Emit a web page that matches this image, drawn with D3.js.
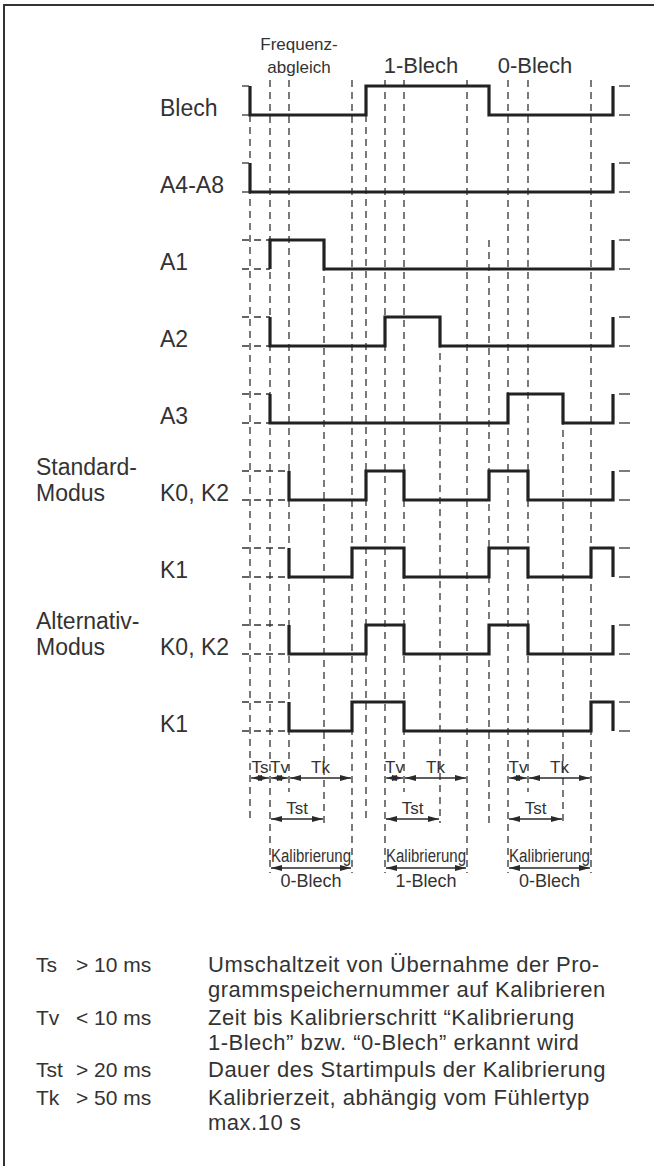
<!DOCTYPE html>
<html>
<head>
<meta charset="utf-8">
<script src="https://cdn.jsdelivr.net/npm/d3@7/dist/d3.min.js"></script>
<style>
  body { margin: 0; background: #fff; overflow: hidden; }
  svg { display: block; }
  text { font-family: "Liberation Sans", Arial, sans-serif; fill: #333; }
</style>
</head>
<body>
<div id="chart"></div>
<script>
// time points of the edges (arbitrary units along the time axis)
const eventTimes = [0, 20, 39, 74, 102, 116, 135, 154, 190, 217, 239, 258, 278, 313, 341, 363];

const signalNames = ['Blech', 'A4-A8', 'A1', 'A2', 'A3', 'K0, K2', 'K1', 'K0, K2', 'K1'];
// [event index, level] pairs, drawn as step-after
const signalSteps = [
    [[0, 1], [0, 0], [5, 1], [10, 0], [15, 1]],
    [[0, 1], [0, 0], [15, 1]],
    [[1, 0], [1, 1], [3, 0], [15, 1]],
    [[1, 1], [1, 0], [6, 1], [8, 0], [15, 1]],
    [[1, 1], [1, 0], [11, 1], [13, 0], [15, 1]],
    [[2, 1], [2, 0], [5, 1], [7, 0], [10, 1], [12, 0], [15, 1]],
    [[2, 1], [2, 0], [4, 1], [7, 0], [10, 1], [12, 0], [14, 1], [15, 0]],
    [[2, 1], [2, 0], [5, 1], [7, 0], [10, 1], [12, 0], [15, 1]],
    [[2, 1], [2, 0], [4, 1], [7, 0], [14, 1], [15, 0]]
];
const modeLabels = [
    { row: 5, lines: ['Standard-', 'Modus'] },
    { row: 7, lines: ['Alternativ-', 'Modus'] }
];

// dashed guides: event index, where it starts (top or a row level), which arrow row it ends at
const guideEvents = [0, 1, 2, 3, 4, 5, 6, 7, 8, 9, 10, 11, 12, 13, 14];
const guideFrom = [[0, 0], 'top', 'top', [2, 1], 'top', [0, 0], 'top', 'top', [3, 1], 'top', [2, 1], 'top', 'top', [4, 1], 'top'];
const guideTo = ['tst', 'kal', 'tk', 'tst', 'kal', 'tst', 'kal', 'tk', 'tst', 'kal', 'tst', 'kal', 'tk', 'tst', 'kal'];

const timeArrows = [
    { row: 'tk', from: 0, to: 1, label: 'Ts' },
    { row: 'tk', from: 1, to: 2, label: 'Tv' },
    { row: 'tk', from: 2, to: 4, label: 'Tk' },
    { row: 'tk', from: 6, to: 7, label: 'Tv' },
    { row: 'tk', from: 7, to: 9, label: 'Tk' },
    { row: 'tk', from: 11, to: 12, label: 'Tv' },
    { row: 'tk', from: 12, to: 14, label: 'Tk' },
    { row: 'tst', from: 1, to: 3, label: 'Tst' },
    { row: 'tst', from: 6, to: 8, label: 'Tst' },
    { row: 'tst', from: 11, to: 13, label: 'Tst' },
    { row: 'kal', from: 1, to: 4, label: 'Kalibrierung', sub: '0-Blech' },
    { row: 'kal', from: 6, to: 9, label: 'Kalibrierung', sub: '1-Blech' },
    { row: 'kal', from: 11, to: 14, label: 'Kalibrierung', sub: '0-Blech' }
];

const phaseLabels = [
    { t: 49, lines: ['Frequenz-', 'abgleich'] },
    { t: 171, lines: ['1-Blech'] },
    { t: 285, lines: ['0-Blech'] }
];

const legendSymbols = ['Ts', 'Tv', 'Tst', 'Tk'];
const legendLimits = ['> 10 ms', '< 10 ms', '> 20 ms', '> 50 ms'];
const legendTexts = [
    ['Umschaltzeit von Übernahme der Pro-', 'grammspeichernummer auf Kalibrieren'],
    ['Zeit bis Kalibrierschritt “Kalibrierung', '1-Blech” bzw. “0-Blech” erkannt wird'],
    ['Dauer des Startimpuls der Kalibrierung'],
    ['Kalibrierzeit, abhängig vom Fühlertyp', 'max.10 s']
];

const width = 654, height = 1166;
const svg = d3.select('#chart').append('svg').attr('width', width).attr('height', height);

// frame (right and bottom edges fall outside the picture)
svg.append('rect').attr('x', 4).attr('y', 5).attr('width', 700).attr('height', 1200)
    .attr('fill', 'none').attr('stroke', '#333').attr('stroke-width', 2);

const x = d3.scaleLinear().domain([0, 363]).range([250, 613]);
const rowLow = d3.scalePoint().domain(d3.range(signalNames.length)).range([115, 731]);
const pulse = 29;
const y = (row, level) => rowLow(row) - level * pulse;
const arrowY = { tk: 778, tst: 819, kal: 868 };
const guideEnd = { tk: 792, tst: 823, kal: 873 };

const defs = svg.append('defs');
defs.append('marker').attr('id', 'head')
    .attr('viewBox', '0 0 11 6').attr('refX', 11).attr('refY', 3)
    .attr('markerWidth', 11).attr('markerHeight', 6).attr('markerUnits', 'userSpaceOnUse')
    .attr('orient', 'auto-start-reverse')
    .append('path').attr('d', 'M0,0L11,3L0,6Z').attr('fill', '#2a2a2a');

// dashed guides
svg.append('g').selectAll('line').data(guideEvents).join('line')
    .attr('x1', (e) => x(eventTimes[e])).attr('x2', (e) => x(eventTimes[e]))
    .attr('y1', (e, i) => guideFrom[i] === 'top' ? 80 : y(guideFrom[i][0], guideFrom[i][1]))
    .attr('y2', (e, i) => guideEnd[guideTo[i]])
    .attr('stroke', '#333').attr('stroke-width', 1.3).attr('stroke-dasharray', '7,5');

// level reference ticks
const rows = svg.append('g').selectAll('g').data(signalSteps).join('g');
rows.selectAll('line.left').data((d, i) => [[i, 0, d], [i, 1, d]]).join('line').attr('class', 'left')
    .attr('x1', 242).attr('x2', (d) => x(eventTimes[d[2][0][0]]))
    .attr('y1', (d) => y(d[0], d[1])).attr('y2', (d) => y(d[0], d[1]))
    .attr('stroke', '#333').attr('stroke-width', 1.3).attr('stroke-dasharray', '7,5');
rows.selectAll('line.right').data((d, i) => [[i, 0], [i, 1]]).join('line').attr('class', 'right')
    .attr('x1', x(eventTimes[15]) + 6).attr('x2', x(eventTimes[15]) + 17)
    .attr('y1', (d) => y(d[0], d[1])).attr('y2', (d) => y(d[0], d[1]))
    .attr('stroke', '#333').attr('stroke-width', 1.3);

// signals
rows.append('path')
    .attr('d', (d, i) => d3.line().curve(d3.curveStepAfter)
        .x((p) => x(eventTimes[p[0]])).y((p) => y(i, p[1]))(d))
    .attr('fill', 'none').attr('stroke', '#222').attr('stroke-width', 3.2);

rows.append('text').attr('x', 160).attr('y', (d, i) => rowLow(i) + 1)
    .attr('font-size', 23).text((d, i) => signalNames[i]);

svg.append('g').selectAll('text').data(modeLabels.flatMap((m) => m.lines.map((l, j) => ({ m, l, j })))).join('text')
    .attr('x', 36).attr('y', (d) => rowLow(d.m.row) + 1 - (d.m.lines.length - 1 - d.j) * 26)
    .attr('font-size', 23).text((d) => d.l);

// phase labels on top
svg.append('g').selectAll('text').data(phaseLabels.flatMap((p) => p.lines.map((l, j) => ({ p, l, j, n: p.lines.length })))).join('text')
    .attr('x', (d) => x(d.p.t)).attr('y', (d) => 73 - (d.n - 1 - d.j) * 23)
    .attr('text-anchor', 'middle').attr('font-size', (d) => d.n > 1 ? 17 : 22)
    .text((d) => d.l);

// time arrows
const arrows = svg.append('g').selectAll('g').data(timeArrows).join('g');
arrows.append('line')
    .attr('x1', (d) => x(eventTimes[d.from]) + 1).attr('x2', (d) => x(eventTimes[d.to]) - 1)
    .attr('y1', (d) => arrowY[d.row]).attr('y2', (d) => arrowY[d.row])
    .attr('stroke', '#2a2a2a').attr('stroke-width', 1.3)
    .attr('marker-start', 'url(#head)').attr('marker-end', 'url(#head)');
arrows.append('text')
    .attr('x', (d) => (x(eventTimes[d.from]) + x(eventTimes[d.to])) / 2)
    .attr('y', (d) => arrowY[d.row] - (d.row === 'kal' ? 6 : 5))
    .attr('text-anchor', 'middle')
    .attr('font-size', (d) => d.row === 'kal' ? 18 : 17)
    .attr('textLength', (d) => d.row === 'kal' ? x(eventTimes[d.to]) - x(eventTimes[d.from]) - 2 : null)
    .attr('lengthAdjust', 'spacingAndGlyphs')
    .text((d) => d.label);
arrows.filter((d) => d.sub).append('text')
    .attr('x', (d) => (x(eventTimes[d.from]) + x(eventTimes[d.to])) / 2)
    .attr('y', (d) => arrowY[d.row] + 19)
    .attr('text-anchor', 'middle').attr('font-size', 18)
    .text((d) => d.sub);

// legend
const legendTop = 972, lineStep = 25, blockGap = 2.5;
let lineIndex = 0;
const legendRows = legendSymbols.map((s, i) => {
    const row = { s, limit: legendLimits[i], lines: legendTexts[i], y: legendTop + lineIndex * lineStep + i * blockGap };
    lineIndex += legendTexts[i].length;
    return row;
});
const legend = svg.append('g').selectAll('g').data(legendRows).join('g');
legend.append('text').attr('x', 36).attr('y', (d) => d.y).attr('font-size', 21).text((d) => d.s);
legend.append('text').attr('x', 76).attr('y', (d) => d.y).attr('font-size', 21).text((d) => d.limit);
legend.selectAll('text.desc').data((d) => d.lines.map((l, j) => ({ l, y: d.y + j * lineStep }))).join('text')
    .attr('class', 'desc').attr('x', 208).attr('y', (d) => d.y).attr('font-size', 22)
    .attr('letter-spacing', 0.5).text((d) => d.l);
</script>
</body>
</html>
